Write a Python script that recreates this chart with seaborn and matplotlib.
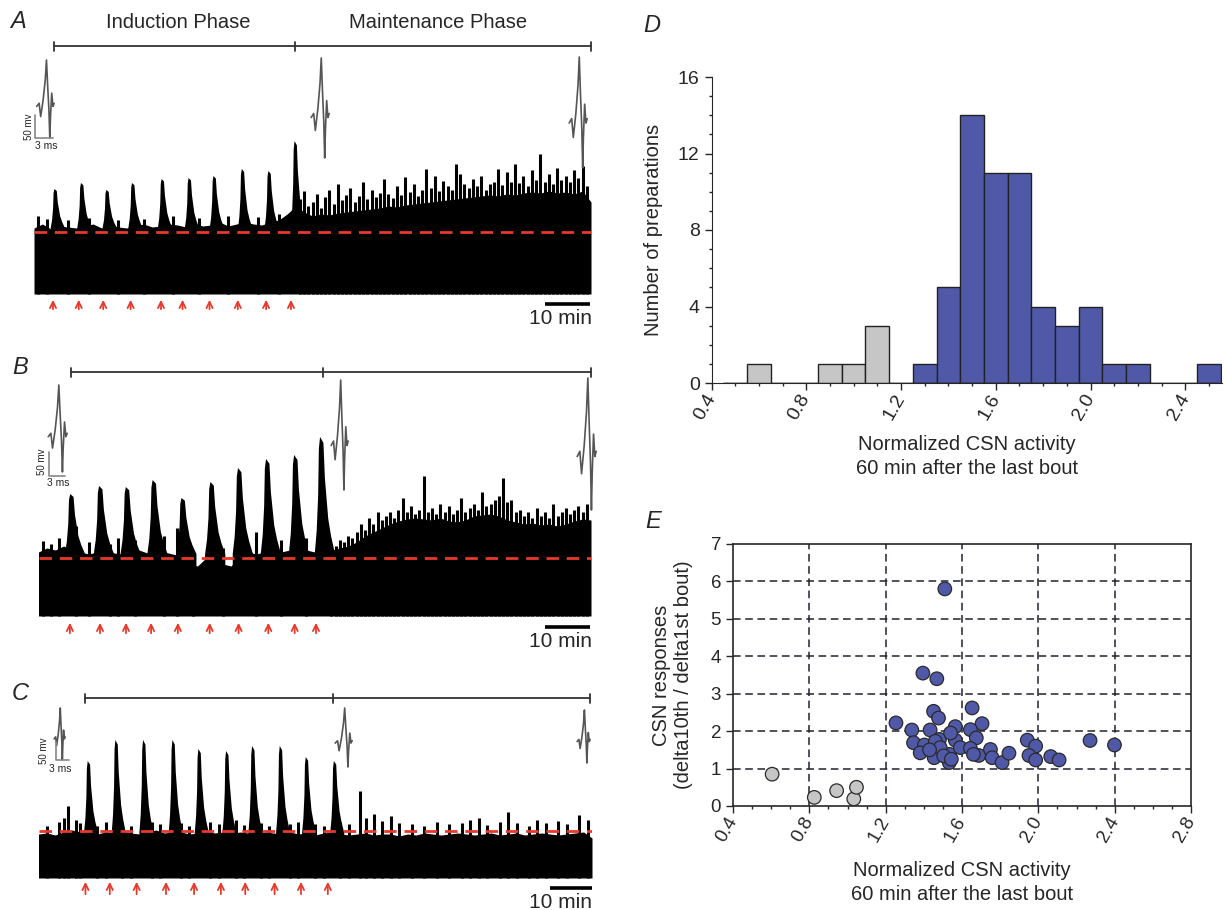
import numpy as np
import pandas as pd
import matplotlib
matplotlib.use('Agg')
import matplotlib.pyplot as plt
import matplotlib.ticker as ticker
import seaborn as sns

sns.set_style('ticks')
plt.rcParams['font.family'] = ['Liberation Sans', 'DejaVu Sans']

W, H = 1229, 910
RED = '#e8392b'
BLUE = '#4f59a8'
GREY = '#c6c6c6'

# ---traces: time in min, height in px above the trace floor---
BG_T = np.arange(0, 133, 2)

A_BG = [66, 70, 65, 68, 67, 66, 68, 70, 66, 69,
        67, 66, 68, 70, 67, 68, 70, 69, 67, 70,
        68, 69, 72, 68, 70, 72, 70, 69, 72, 74,
        80, 88, 82, 78, 80, 79, 81, 82, 83, 84,
        85, 86, 88, 87, 89, 90, 91, 92, 93, 94,
        95, 96, 97, 98, 99, 98, 100, 99, 101, 102,
        101, 103, 101, 102, 100, 103, 92]
A_BOUT_T = [5.0, 11.3, 17.3, 23.4, 30.4, 36.8, 42.7, 49.4, 55.7, 61.9]
A_BOUT_H = [105, 111, 104, 111, 115, 116, 118, 125, 123, 153]
A_ARROW_T = [4.5, 10.6, 16.4, 22.9, 30.1, 35.2, 41.6, 48.3, 55.0, 60.9]
A_SPK_T = [1, 3, 8, 13, 20, 26, 33, 39, 46, 53, 58] + list(range(63, 132))
A_SPK_H = [78, 75, 74, 76, 74, 75, 78, 76, 78, 77, 80,
           95, 103, 88, 92, 100, 86, 97, 104, 90, 110,
           94, 99, 106, 92, 98, 112, 95, 104, 97, 101,
           115, 100, 96, 108, 99, 117, 102, 110, 98, 104,
           125, 106, 118, 103, 113, 108, 104, 130, 120, 110,
           106, 115, 108, 118, 104, 110, 112, 125, 109, 122,
           112, 130, 111, 118, 108, 124, 114, 140, 112, 120,
           110, 126, 114, 118, 112, 124, 116, 128, 108]

B_BG = [64, 68, 66, 70, 66, 64, 62, 64, 66, 63,
        62, 64, 66, 63, 62, 64, 62, 60, 52, 50,
        58, 60, 52, 50, 60, 64, 62, 64, 66, 64,
        66, 65, 66, 64, 66, 66, 68, 70, 74, 80,
        84, 88, 92, 95, 97, 98, 97, 96, 98, 95,
        94, 96, 100, 101, 102, 100, 96, 94, 92, 93,
        91, 92, 90, 92, 95, 97, 96]
B_BOUT_T = [7.8, 14.7, 21.1, 27.5, 34.4, 41.3, 47.9, 54.6, 61.3, 67.5]
B_BOUT_H = [122, 130, 129, 136, 118, 134, 148, 157, 161, 179]
B_ARROW_T = [7.5, 14.7, 20.9, 26.9, 33.3, 40.9, 47.8, 54.9, 61.2, 66.3]
B_SPK_T = [1, 3, 5, 9, 12, 17, 19, 23, 30, 33, 37, 44, 52, 58, 64] + list(range(70, 132))
B_SPK_H = [75, 72, 78, 90, 74, 72, 78, 76, 80, 88, 62, 68, 84, 76, 78,
           72, 70, 76, 74, 80, 78, 84, 92, 86, 98,
           92, 104, 96, 100, 104, 98, 106, 118, 104, 110,
           102, 106, 140, 104, 108, 102, 112, 104, 110, 102,
           106, 118, 104, 108, 112, 106, 124, 110, 112, 116,
           120, 138, 114, 116, 104, 106, 100, 104, 98, 108,
           100, 104, 98, 112, 100, 104, 108, 102, 106, 110,
           104, 112]

C_BG = [44, 45, 43, 46, 48, 46, 46, 44, 46, 45,
        47, 45, 44, 46, 48, 45, 46, 46, 44, 45,
        47, 45, 46, 44, 46, 45, 44, 46, 45, 44,
        46, 44, 45, 43, 45, 46, 44, 43, 44, 45,
        43, 44, 44, 42, 44, 43, 45, 44, 43, 44,
        45, 44, 43, 44, 45, 43, 44, 45, 43, 44,
        45, 44, 43, 44, 45, 46, 40]
C_BOUT_T = [11.9, 18.5, 25.1, 32.1, 38.3, 44.9, 51.1, 57.7, 63.9, 70.6]
C_BOUT_H = [117, 138, 138, 138, 129, 127, 132, 132, 121, 117]
C_ARROW_T = [11.2, 17.0, 23.4, 30.4, 37.1, 43.5, 49.3, 56.3, 62.6, 69.0]
C_SPK_T = [2, 5, 6, 7, 9, 10, 14, 16, 20, 22, 27, 29, 34, 36, 41, 43, 47, 49, 53, 55,
           60, 62, 66, 68, 72, 74, 76.7, 78, 80, 82, 84, 86, 89, 92, 95, 98, 101, 103,
           105, 107, 110, 112, 114, 117, 119, 121, 124, 126, 129, 131]
C_SPK_H = [52, 56, 60, 72, 58, 55, 52, 56, 54, 52, 56, 54, 55, 52, 56, 54, 58, 53, 55, 52,
           54, 56, 54, 52, 56, 54, 87, 60, 64, 57, 62, 55, 54, 52, 56, 54, 55, 58,
           60, 53, 56, 66, 55, 52, 58, 55, 57, 54, 63, 58]

# ---panel D: histogram---
D_CENTERS = [0.6, 0.9, 1.0, 1.1, 1.3, 1.4, 1.5, 1.6, 1.7, 1.8, 1.9, 2.0, 2.1, 2.2, 2.5]
D_COUNTS = [1, 1, 1, 3, 1, 5, 14, 11, 11, 4, 3, 4, 1, 1, 1]
D_GROUP = ['low'] * 4 + ['high'] * 11

# ---panel E: scatter---
E_GREY_X = [0.605, 0.826, 0.943, 1.033, 1.047]
E_GREY_Y = [0.85, 0.23, 0.41, 0.19, 0.50]
E_BLUE_X = [1.51, 1.395, 1.468, 1.653, 1.451, 1.477, 1.254, 1.705, 1.337, 1.433,
            1.565, 1.644, 1.346, 1.403, 1.482, 1.46, 1.565, 1.675, 1.381, 1.454,
            1.535, 1.533, 1.591, 1.644, 1.688, 1.749, 1.758, 1.81, 1.846, 1.942,
            1.986, 1.951, 1.986, 2.065, 2.109, 1.486, 1.504, 1.544, 1.43, 2.271,
            2.399, 1.54, 1.66]
E_BLUE_Y = [5.80, 3.55, 3.40, 2.62, 2.53, 2.35, 2.22, 2.20, 2.03, 2.03,
            2.12, 2.04, 1.69, 1.63, 1.78, 1.73, 1.76, 1.82, 1.42, 1.29,
            1.38, 1.16, 1.56, 1.54, 1.35, 1.51, 1.29, 1.16, 1.41, 1.76,
            1.60, 1.35, 1.23, 1.32, 1.23, 1.56, 1.34, 1.25, 1.50, 1.75,
            1.63, 1.95, 1.38]

# spike waveform template for the insets (normalised)
WAVE_X = [-0.49, -0.35, -0.26, -0.12, 0.0, 0.07, 0.14, 0.21, 0.26, 0.30, 0.37, 0.44, 0.51]
WAVE_Y = [-0.19, -0.11, -0.45, -0.02, 0.49, 1.0, 0.32, -0.28, -1.0, -0.45, 0.15, -0.19, -0.11]

# bout shape template (min offset, fraction of the peak above baseline)
BOUT_DT = [-1.3, -0.9, -0.6, -0.45, -0.2, 0.5, 0.8, 1.1, 1.5, 2.1, 2.9]
BOUT_FRAC = [0.0, 0.2, 0.5, 0.9, 1.0, 0.95, 0.65, 0.5, 0.3, 0.15, 0.0]


fig = plt.figure(figsize=(W / 100, H / 100), dpi=100)


def px_axes(l, t, r, b):
    return fig.add_axes([l / W, 1 - b / H, (r - l) / W, (b - t) / H])


def draw_trace(ax, bg, bout_t, bout_h, base, width, spk_t, spk_h, arrow_t, arrow_y, dash_h):
    ax.fill_between(BG_T, 0, bg, color='black', lw=0)
    for t, h in zip(bout_t, bout_h):
        xs = [t + d * width for d in BOUT_DT]
        ys = [base + f * (h - base) for f in BOUT_FRAC]
        ax.fill([xs[0]] + xs + [xs[-1]], [0] + ys + [0], color='black', lw=0)
    ax.vlines(spk_t, 0, spk_h, color='black', lw=2.2)
    ax.axhline(dash_h, color=RED, lw=2, ls=(0, (4.5, 2.8)), zorder=5)
    for t in arrow_t:
        ax.annotate('', xy=(t, arrow_y[0]), xytext=(t, arrow_y[1]), annotation_clip=False,
                    arrowprops=dict(arrowstyle='->,head_length=0.45,head_width=0.22', color=RED, lw=1.3))
    ax.set_xlim(0, 132)
    ax.set_ylim(-30, 260)
    ax.axis('off')


axA = px_axes(34, 34, 591, 324)
draw_trace(axA, A_BG, A_BOUT_T, A_BOUT_H, 66, 0.8, A_SPK_T, A_SPK_H, A_ARROW_T, (-3, -18), 62)
axB = px_axes(38.5, 356, 591, 646)
draw_trace(axB, B_BG, B_BOUT_T, B_BOUT_H, 62, 1.15, B_SPK_T, B_SPK_H, B_ARROW_T, (-4, -20), 57.7)
axC = px_axes(38.5, 618, 592, 908)
draw_trace(axC, C_BG, C_BOUT_T, C_BOUT_H, 45, 0.8, C_SPK_T, C_SPK_H, C_ARROW_T, (-1, -19), 47)

# ---panel D---
axD = px_axes(711.5, 77, 1222, 383)
hist_df = pd.DataFrame({'activity': D_CENTERS, 'n': D_COUNTS, 'group': D_GROUP})
sns.histplot(data=hist_df, x='activity', weights='n', hue='group', binwidth=0.1, binrange=(0.45, 2.55),
             palette={'low': GREY, 'high': BLUE}, alpha=1, edgecolor='#222222', linewidth=1,
             legend=False, ax=axD)
axD.set_xlim(0.4, 2.555)
axD.set_ylim(0, 16)
axD.set_xticks([0.4, 0.8, 1.2, 1.6, 2.0, 2.4])
axD.set_xticklabels(['0.4', '0.8', '1.2', '1.6', '2.0', '2.4'])
axD.xaxis.set_minor_locator(ticker.MultipleLocator(0.1))
axD.set_yticks([0, 4, 8, 12, 16])
axD.yaxis.set_minor_locator(ticker.MultipleLocator(1))
sns.despine(ax=axD)
axD.set_xlabel('Normalized CSN activity\n60 min after the last bout', fontsize=14.5, linespacing=1.35)
axD.set_ylabel('Number of preparations', fontsize=14.5)
axD.xaxis.set_label_coords(0.5, -0.17)
axD.yaxis.set_label_coords(-0.095, 0.5)

# ---panel E---
axE = px_axes(733, 544, 1191, 806)
grey_df = pd.DataFrame({'x': E_GREY_X, 'y': E_GREY_Y, 'g': 'low'})
blue_df = pd.DataFrame({'x': E_BLUE_X, 'y': E_BLUE_Y, 'g': 'high'})
scat_df = pd.concat([grey_df, blue_df], ignore_index=True)
sns.scatterplot(data=scat_df, x='x', y='y', hue='g', palette={'low': GREY, 'high': BLUE},
                s=95, edgecolor='#2a2a2a', linewidth=0.9, legend=False, ax=axE, zorder=3)
axE.set_xlim(0.4, 2.8)
axE.set_ylim(0, 7)
axE.set_xticks([0.4, 0.8, 1.2, 1.6, 2.0, 2.4, 2.8])
axE.set_xticklabels(['0.4', '0.8', '1.2', '1.6', '2.0', '2.4', '2.8'])
axE.xaxis.set_minor_locator(ticker.MultipleLocator(0.1))
axE.set_yticks(range(8))
for v in [0.8, 1.2, 1.6, 2.0, 2.4]:
    axE.axvline(v, color='#222233', lw=1.1, ls=(0, (5, 3)), zorder=1)
for v in range(1, 7):
    axE.axhline(v, color='#222233', lw=1.1, ls=(0, (5, 3)), zorder=1)
for s in axE.spines.values():
    s.set_linewidth(1.2)
axE.set_xlabel('Normalized CSN activity\n60 min after the last bout', fontsize=14.5, linespacing=1.35)
axE.set_ylabel('CSN responses\n(delta10th / delta1st bout)', fontsize=14.5, linespacing=1.2)
axE.xaxis.set_label_coords(0.5, -0.21)
axE.yaxis.set_label_coords(-0.087, 0.5)

for ax in (axD, axE):
    ax.tick_params(which='major', direction='out', length=5, width=1, labelsize=14)
    ax.tick_params(which='minor', direction='out', length=2.5, width=1)
    for lab in ax.get_xticklabels():
        lab.set_rotation(60)
        lab.set_ha('right')
        lab.set_va('center')
        lab.set_rotation_mode('anchor')
axE.tick_params(labelsize=13.5)

# ---overlay in pixel coordinates for the annotations---
ov = fig.add_axes([0, 0, 1, 1])
ov.set_xlim(0, W)
ov.set_ylim(H, 0)
ov.axis('off')
ov.set_zorder(10)

for lab, x, y in [('A', 10, 22), ('B', 12, 368), ('C', 12, 694), ('D', 643, 25), ('E', 645, 522)]:
    ov.text(x, y, lab, fontsize=17, fontstyle='italic', ha='left', va='center')
ov.text(178, 22, 'Induction Phase', fontsize=14.5, ha='center', va='center')
ov.text(438, 22, 'Maintenance Phase', fontsize=14.5, ha='center', va='center')

# phase brackets
for y, x0, xm, x1 in [(46, 54, 295, 591), (372, 71, 323, 591), (698, 85, 333, 590)]:
    ov.plot([x0, x1], [y, y], color='#333333', lw=1.3)
    for x in (x0, xm, x1):
        ov.plot([x, x], [y - 4.5, y + 4.5], color='#333333', lw=1.3)

# spike waveforms
wx = np.array(WAVE_X)
wy = np.array(WAVE_Y)
for l, r, t, b in [(36.5, 54, 60, 138), (311, 329, 58, 158), (569, 587, 57, 168),
                   (48, 67, 385, 472), (331, 348, 380, 490), (577, 596, 378, 510),
                   (54, 65, 708, 760), (335, 352, 708, 767), (577, 590, 710, 763)]:
    ov.plot((l + r) / 2 + wx * (r - l), (t + b) / 2 - wy * (b - t) / 2, color='#555555', lw=1.2)

# 50 mV / 3 ms scale bars
for vx, vt, vb, hx, tx, ty, mx, my in [(35, 115, 138, 53, 29, 127, 46, 146),
                                       (49, 452, 476, 65, 42, 462, 58, 483),
                                       (56, 742, 760, 69, 44, 751, 60, 769)]:
    ov.plot([vx, vx, hx], [vt, vb, vb], color='#888888', lw=1.2)
    ov.text(tx, ty, '50 mv', fontsize=7, rotation=90, ha='center', va='center')
    ov.text(mx, my, '3 ms', fontsize=7.5, ha='center', va='center')

# 10 min bars
for x0, x1, y in [(545, 590, 304), (545, 590, 627), (550, 592, 888)]:
    ov.plot([x0, x1], [y, y], color='black', lw=2.6, solid_capstyle='butt')
    ov.text(592, y + 5, '10 min', fontsize=15, ha='right', va='top')

fig.savefig('out.png', dpi=100)
